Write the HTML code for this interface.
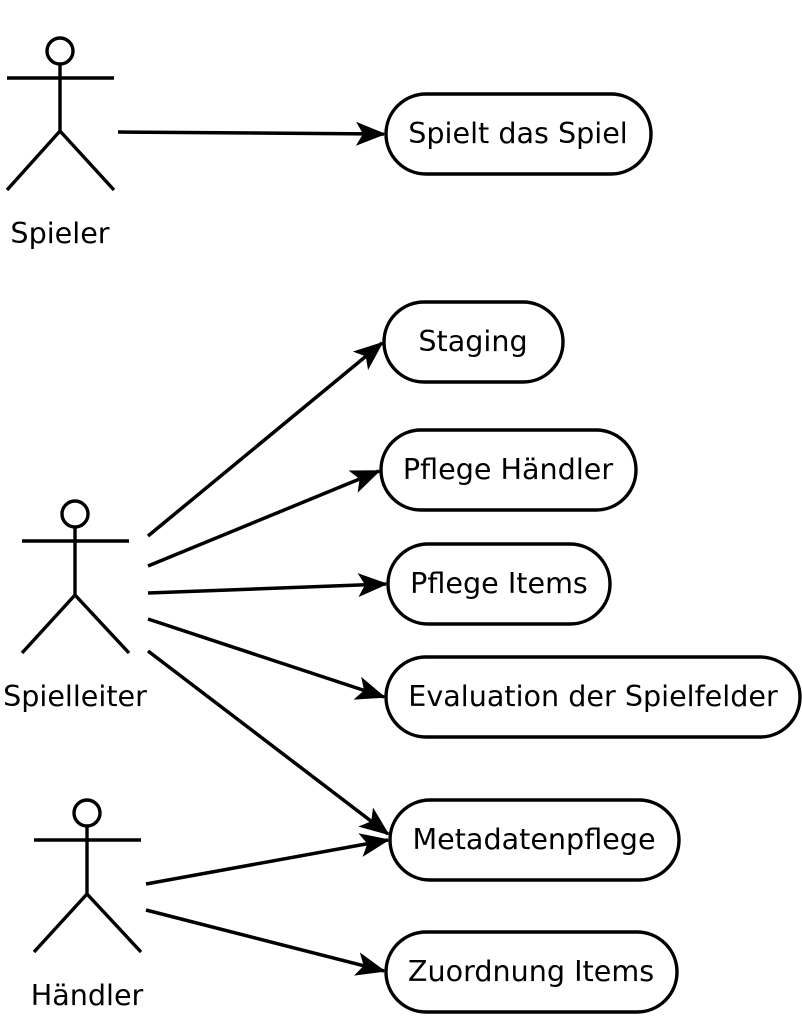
<!DOCTYPE html>
<html><head><meta charset="utf-8"><style>
html,body{margin:0;padding:0;background:#fff;}
svg{display:block;}
</style></head><body>
<svg width="802" height="1024" viewBox="0 0 802 1024" xmlns="http://www.w3.org/2000/svg">
<defs>
<marker id="a" markerWidth="30" markerHeight="24" viewBox="0 0 30 24" refX="28" refY="12" orient="auto" markerUnits="userSpaceOnUse">
<path d="M0,0 L30,12 L0,24 L7,12 Z" fill="#000"/>
</marker>
</defs>
<g stroke="#000" stroke-width="3.4" fill="none">
<circle cx="60" cy="51" r="13" fill="#fff"/>
<path d="M60 64V131M7 78H114M7 190L60 131L114 190"/>
<circle cx="75" cy="514" r="13" fill="#fff"/>
<path d="M75 527V595M22 541H129M22 653L75 595L129 653"/>
<circle cx="87" cy="813" r="13" fill="#fff"/>
<path d="M87 826V894M34 840H141M34 952L87 894L141 952"/>
<rect x="386" y="94" width="265" height="80" rx="40" fill="#fff"/>
<rect x="384" y="302" width="179" height="80" rx="40" fill="#fff"/>
<rect x="381" y="430" width="255" height="80" rx="40" fill="#fff"/>
<rect x="388" y="544" width="222" height="80" rx="40" fill="#fff"/>
<rect x="386" y="657" width="414" height="80" rx="40" fill="#fff"/>
<rect x="390" y="800" width="289" height="80" rx="40" fill="#fff"/>
<rect x="386" y="932" width="291" height="80" rx="40" fill="#fff"/>
</g>
<g font-family="DejaVu Sans, Liberation Sans, sans-serif" font-size="28.6" fill="#000" text-anchor="middle">
<text x="60" y="243">Spieler</text>
<text x="75" y="706">Spielleiter</text>
<text x="87" y="1005">Händler</text>
<text x="518" y="143">Spielt das Spiel</text>
<text x="473" y="351">Staging</text>
<text x="508" y="479">Pflege Händler</text>
<text x="499" y="593">Pflege Items</text>
<text x="593" y="706">Evaluation der Spielfelder</text>
<text x="534" y="849">Metadatenpflege</text>
<text x="531" y="981">Zuordnung Items</text>
</g>
<g stroke="#000" stroke-width="3.5" fill="none" marker-end="url(#a)">
<path d="M118 132L384 134"/>
<path d="M148 536L382 343"/>
<path d="M148 566L379 471"/>
<path d="M148 593L386 584"/>
<path d="M148 619L384 697"/>
<path d="M148 651L388 834"/>
<path d="M146 884L388 840"/>
<path d="M146 910L384 971"/>
</g>
</svg>
</body></html>
